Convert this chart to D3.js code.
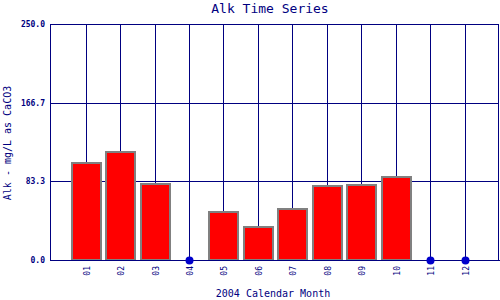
<!DOCTYPE html>
<html>
<head>
<meta charset="utf-8">
<script src="https://cdn.jsdelivr.net/npm/d3@7"></script>
<style>
  body { margin: 0; background: #fff; }
  svg { display: block; }
  .axis path, .axis line { stroke: #000080; shape-rendering: crispEdges; }
  .axis text { fill: #000080; font-family: "DejaVu Sans Mono", monospace; }
</style>
</head>
<body>
<div id="chart"></div>
<script>
var svgWidth = 500;
var svgHeight = 300;

// data (null = no sample)
var months = ["01", "02", "03", "04", "05", "06", "07", "08", "09", "10", "11", "12"];
var alk = [103.5, 115.1, 81.2, null, 51.6, 35.7, 54.8, 79.4, 80.5, 89.0, null, null];
var yTicks = [0, 83.3, 166.7, 250];

var margin = { top: 24, right: 1, bottom: 40, left: 50 };
var chartWidth = svgWidth - margin.left - margin.right;
var chartHeight = svgHeight - margin.top - margin.bottom;
var navy = "#000080";

var svg = d3.select("#chart")
  .append("svg")
  .attr("width", svgWidth)
  .attr("height", svgHeight);

var chartGroup = svg.append("g")
  .attr("transform", `translate(${margin.left},${margin.top})`);

var xScale = d3.scaleLinear()
  .domain([0, 13])
  .range([1.3, chartWidth]);

var yScale = d3.scaleLinear()
  .domain([0, 250])
  .range([chartHeight, 0]);

// horizontal grid + y labels
var leftAxis = d3.axisLeft(yScale)
  .tickValues(yTicks)
  .tickFormat(d3.format(".1f"))
  .tickSize(-chartWidth)
  .tickPadding(5);

var yAxis = chartGroup.append("g")
  .attr("class", "axis")
  .call(leftAxis);
yAxis.select(".domain").remove();
yAxis.selectAll("text")
  .style("font-size", "8px")
  .style("font-weight", "bold");

// vertical grid at each month
chartGroup.selectAll("line.vgrid")
  .data(months)
  .enter()
  .append("line")
  .attr("class", "vgrid")
  .attr("x1", (d, i) => Math.round(xScale(i + 1)) + 0.5)
  .attr("x2", (d, i) => Math.round(xScale(i + 1)) + 0.5)
  .attr("y1", 0)
  .attr("y2", chartHeight)
  .attr("stroke", navy)
  .attr("shape-rendering", "crispEdges");

// frame lines left and right
chartGroup.selectAll("line.frame")
  .data([0.5, chartWidth - 0.5])
  .enter()
  .append("line")
  .attr("class", "frame")
  .attr("x1", d => d).attr("x2", d => d)
  .attr("y1", 0).attr("y2", chartHeight)
  .attr("stroke", navy)
  .attr("shape-rendering", "crispEdges");

// bars
var barW = 30;
var bars = months.map((m, i) => ({ m: m, i: i + 1, v: alk[i] }));

chartGroup.selectAll("rect.bar")
  .data(bars.filter(d => d.v !== null))
  .enter()
  .append("rect")
  .attr("class", "bar")
  .attr("x", d => Math.round(xScale(d.i) - barW / 2) + 1)
  .attr("y", d => Math.round(yScale(d.v)) + 1)
  .attr("width", barW - 1)
  .attr("height", d => Math.round(chartHeight - yScale(d.v)) - 1)
  .attr("fill", "#ff0000")
  .attr("stroke", "#808080")
  .attr("stroke-width", 2);

// bottom axis line drawn over bars
chartGroup.append("line")
  .attr("x1", 0).attr("x2", chartWidth + 1)
  .attr("y1", chartHeight + 0.5).attr("y2", chartHeight + 0.5)
  .attr("stroke", navy)
  .attr("shape-rendering", "crispEdges");

// missing months marked at zero
chartGroup.selectAll("circle.miss")
  .data(bars.filter(d => d.v === null))
  .enter()
  .append("circle")
  .attr("class", "miss")
  .attr("cx", d => Math.round(xScale(d.i)) + 0.5)
  .attr("cy", yScale(0) + 0.5)
  .attr("r", 4)
  .attr("fill", "#0000cc");

// month labels, rotated
chartGroup.selectAll("text.month")
  .data(bars)
  .enter()
  .append("text")
  .attr("class", "month")
  .attr("transform", d => `translate(${Math.round(xScale(d.i)) + 3.5},${chartHeight + 6}) rotate(-90)`)
  .attr("text-anchor", "end")
  .style("font-family", "'DejaVu Sans Mono', monospace")
  .style("font-size", "8px")
  .attr("fill", navy)
  .text(d => d.m);

// title
svg.append("text")
  .attr("x", 270)
  .attr("y", 13)
  .attr("text-anchor", "middle")
  .style("font-family", "'DejaVu Sans Mono', monospace")
  .style("font-size", "13px")
  .attr("fill", navy)
  .text("Alk Time Series");

// x title
svg.append("text")
  .attr("x", 273)
  .attr("y", 297)
  .attr("text-anchor", "middle")
  .style("font-family", "'DejaVu Sans Mono', monospace")
  .style("font-size", "10px")
  .attr("fill", navy)
  .text("2004 Calendar Month");

// y title
svg.append("text")
  .attr("transform", "translate(11,143) rotate(-90)")
  .attr("text-anchor", "middle")
  .style("font-family", "'DejaVu Sans Mono', monospace")
  .style("font-size", "10px")
  .attr("fill", navy)
  .text("Alk - mg/L as CaCO3");
</script>
</body>
</html>
